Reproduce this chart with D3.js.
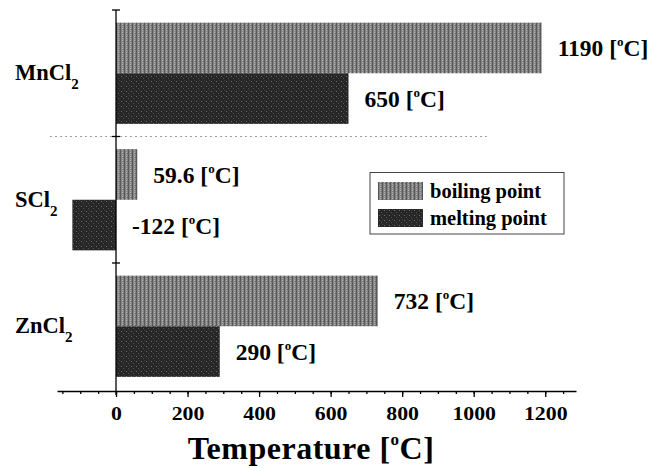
<!DOCTYPE html>
<html>
<head>
<meta charset="utf-8">
<script src="https://cdn.jsdelivr.net/npm/d3@7"></script>
<style>
  body { margin: 0; background: #fff; }
</style>
</head>
<body>
<svg class="chart" width="662" height="468"></svg>
<script>
const compounds = ['MnCl2', 'SCl2', 'ZnCl2']
const series = ['boiling point', 'melting point']
const boiling = [1190, 59.6, 732]
const melting = [650, -122, 290]
const xTicks = [0, 200, 400, 600, 800, 1000, 1200]
const xMinorTicks = d3.range(-150, 1251, 50)

const svg = d3.select('.chart')

const x = d3.scaleLinear([-165, 1286], [57, 576])
const y = d3.scaleBand(compounds, [10, 389.5]).paddingInner(0.2).paddingOuter(0.1)
const sub = d3.scaleBand(series, [0, y.bandwidth()])
const axisY = 391

// textures for the two series
const defs = svg.append('defs')
const pBoil = defs.append('pattern').attr('id', 'pBoil')
    .attr('width', 4).attr('height', 4).attr('patternUnits', 'userSpaceOnUse')
pBoil.append('rect').attr('width', 4).attr('height', 4).attr('fill', '#858585')
pBoil.append('rect').attr('width', 1).attr('height', 4).attr('fill', '#585858')
pBoil.append('rect').attr('x', 2).attr('width', 1).attr('height', 1).attr('fill', '#b4b4b4')
pBoil.append('rect').attr('x', 2).attr('y', 2).attr('width', 1).attr('height', 1).attr('fill', '#a8a8a8')
pBoil.append('rect').attr('x', 3).attr('y', 1).attr('width', 1).attr('height', 1).attr('fill', '#6a6a6a')

const pMelt = defs.append('pattern').attr('id', 'pMelt')
    .attr('width', 5).attr('height', 5).attr('patternUnits', 'userSpaceOnUse')
pMelt.append('rect').attr('width', 5).attr('height', 5).attr('fill', '#262626')
pMelt.append('rect').attr('x', 1).attr('y', 1).attr('width', 1).attr('height', 1).attr('fill', '#6e6e6e')
pMelt.append('rect').attr('x', 3).attr('y', 3).attr('width', 1).attr('height', 1).attr('fill', '#555')
pMelt.append('rect').attr('x', 4).attr('y', 0).attr('width', 1).attr('height', 1).attr('fill', '#404040')

const fills = {'boiling point': 'url(#pBoil)', 'melting point': 'url(#pMelt)'}

const rows = []
compounds.forEach((c, i) => {
    rows.push({c, s: series[0], v: boiling[i]})
    rows.push({c, s: series[1], v: melting[i]})
})

// dotted separator
const sep = y(compounds[1]) - y.step() * y.paddingInner() / 2
svg.append('line')
    .attr('x1', 50).attr('x2', 490)
    .attr('y1', sep).attr('y2', sep)
    .attr('stroke', '#a0a0a0').attr('stroke-dasharray', '2,3')

svg.append('g')
    .selectAll('rect')
    .data(rows)
    .join('rect')
        .attr('x', d => x(Math.min(0, d.v)))
        .attr('width', d => Math.abs(x(d.v) - x(0)))
        .attr('y', d => y(d.c) + sub(d.s))
        .attr('height', sub.bandwidth())
        .attr('fill', d => fills[d.s])

// value labels
const lab = svg.append('g')
    .selectAll('text')
    .data(rows)
    .join('text')
        .attr('x', d => x(Math.max(0, d.v)) + 16)
        .attr('y', d => y(d.c) + sub(d.s) + sub.bandwidth() / 2)
        .attr('dy', '0.36em')
        .attr('font-size', '23.5px')
lab.append('tspan').text(d => d.v + ' [')
lab.append('tspan').text('o').attr('font-size', '13px').attr('dy', '-10')
lab.append('tspan').text('C]').attr('dy', '10')

// x axis
const gx = svg.append('g').attr('transform', `translate(0,${axisY})`)
gx.call(d3.axisBottom(x).tickValues(xMinorTicks).tickSize(3).tickSizeOuter(0).tickFormat(''))
gx.append('g').call(d3.axisBottom(x).tickValues(xTicks).tickSize(6).tickSizeOuter(0).tickFormat(d3.format('d')))
    .call(g => g.select('.domain').remove())
gx.selectAll('path, line').attr('stroke', '#000').attr('stroke-width', 1.3)
gx.selectAll('text')
    .attr('y', 29.5).attr('dy', null)
    .attr('font-size', '19.5px')
    .attr('transform', 'scale(1.12,1)')

// y axis
const gy = svg.append('g')
gy.append('line')
    .attr('x1', x(0)).attr('x2', x(0))
    .attr('y1', 10).attr('y2', axisY + 4)
    .attr('stroke', '#000').attr('stroke-width', 1.3)
const yTickPos = [10].concat(compounds.slice(1).map(c => y(c) - y.step() * y.paddingInner() / 2))
gy.selectAll('.ytick')
    .data(yTickPos)
    .join('line')
        .attr('class', 'ytick')
        .attr('x1', x(0) - 4).attr('x2', x(0) + 4)
        .attr('y1', d => d).attr('y2', d => d)
        .attr('stroke', '#000').attr('stroke-width', 1.3)

const cat = gy.selectAll('.cat')
    .data(compounds)
    .join('text')
        .attr('class', 'cat')
        .attr('x', 15)
        .attr('y', d => y(d) + y.bandwidth() / 2 + 7)
        .attr('font-size', '22.5px')
cat.append('tspan').text(d => d.slice(0, -1))
cat.append('tspan').text(d => d.slice(-1)).attr('font-size', '15px').attr('dy', 9)

// axis title
const title = svg.append('text')
    .attr('x', 311).attr('y', 459)
    .attr('text-anchor', 'middle')
    .attr('font-size', '32px')
    .attr('letter-spacing', '0.5px')
title.append('tspan').text('Temperature [')
title.append('tspan').text('o').attr('font-size', '17px').attr('dy', -14)
title.append('tspan').text('C]').attr('dy', 14)

// legend
const leg = svg.append('g').attr('transform', 'translate(370,172.5)')
leg.append('rect')
    .attr('width', 194).attr('height', 61.5)
    .attr('fill', '#fff').attr('stroke', '#444').attr('stroke-width', 1)
const li = leg.selectAll('.li')
    .data(series)
    .join('g')
        .attr('class', 'li')
        .attr('transform', (d, i) => `translate(8,${9.5 + i * 27})`)
li.append('rect').attr('width', 45).attr('height', 18).attr('fill', d => fills[d])
li.append('text').attr('x', 52).attr('y', 16).attr('font-size', '20.5px').text(d => d)

svg.selectAll('text')
    .style('font-family', '"Liberation Serif"')
    .style('font-weight', 'bold')
    .style('fill', '#000')
</script>
</body>
</html>
